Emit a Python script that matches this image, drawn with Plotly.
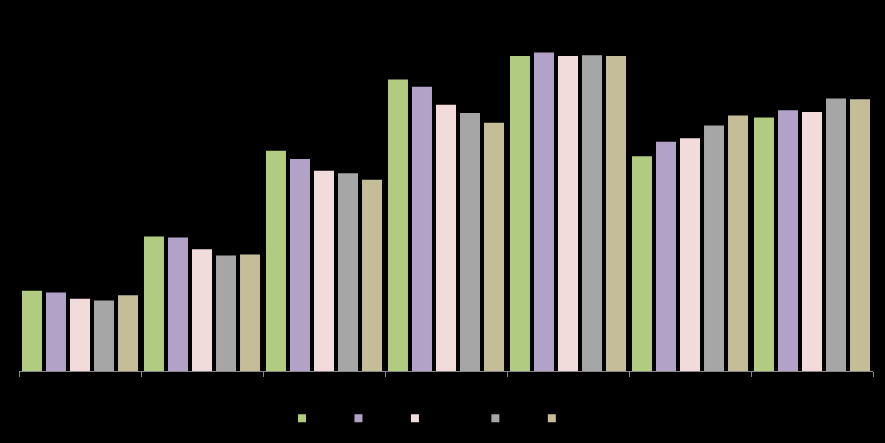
import plotly.graph_objects as go

categories = ["Group 1", "Group 2", "Group 3", "Group 4", "Group 5", "Group 6", "Group 7"]
series_names = ["S1", "S2", "S3 (est.)", "S4", "S5"]
series_values = {
    "S1": [8.9, 14.9, 24.4, 32.3, 34.9, 23.8, 28.1],
    "S2": [8.7, 14.8, 23.5, 31.5, 35.3, 25.4, 28.9],
    "S3 (est.)": [8.0, 13.5, 22.2, 29.5, 34.9, 25.8, 28.7],
    "S4": [7.8, 12.8, 21.9, 28.6, 35.0, 27.2, 30.2],
    "S5": [8.4, 12.9, 21.2, 27.5, 34.9, 28.3, 30.1],
}
colors = ["#B1CB80", "#B3A2C7", "#F2DCDB", "#A6A6A6", "#C4BD97"]

fig = go.Figure()
for name, col in zip(series_names, colors):
    vals = series_values[name]
    fig.add_trace(go.Bar(
        x=categories, y=vals, name=name, marker=dict(color=col, line=dict(width=0)),
        text=[f"{v:.1f}" for v in vals], textposition="outside",
        textfont=dict(color="#000000", size=9), cliponaxis=False,
        showlegend=False, legendgroup=name,
    ))
for name, col in zip(series_names, colors):
    fig.add_trace(go.Scatter(
        x=[None], y=[None], mode="markers", name=name, legendgroup=name,
        marker=dict(symbol="square", size=8, color=col),
    ))

fig.update_layout(
    width=885, height=443,
    paper_bgcolor="#000000", plot_bgcolor="#000000",
    font=dict(family="Liberation Sans", color="#000000", size=9),
    margin=dict(l=19, r=12, t=10, b=67),
    barmode="group", bargap=0.016, bargroupgap=0.167,
    showlegend=True,
    legend=dict(orientation="h", x=(282 - 19) / 854, xanchor="left",
                y=-(424 - 376) / 366, yanchor="middle",
                font=dict(color="#000000", size=9.4), bgcolor="rgba(0,0,0,0)"),
    xaxis=dict(showline=True, linecolor="#868686", linewidth=1, ticks="outside",
               tickson="boundaries", ticklen=5, tickcolor="#868686",
               tickfont=dict(color="#000000", size=9), showgrid=False, zeroline=False),
    yaxis=dict(visible=False, range=[0, 40], showgrid=False, zeroline=False),
)
fig.write_html("out.html", config={"displayModeBar": False},
               post_script="document.body.style.margin='0';document.body.style.background='#000';")
